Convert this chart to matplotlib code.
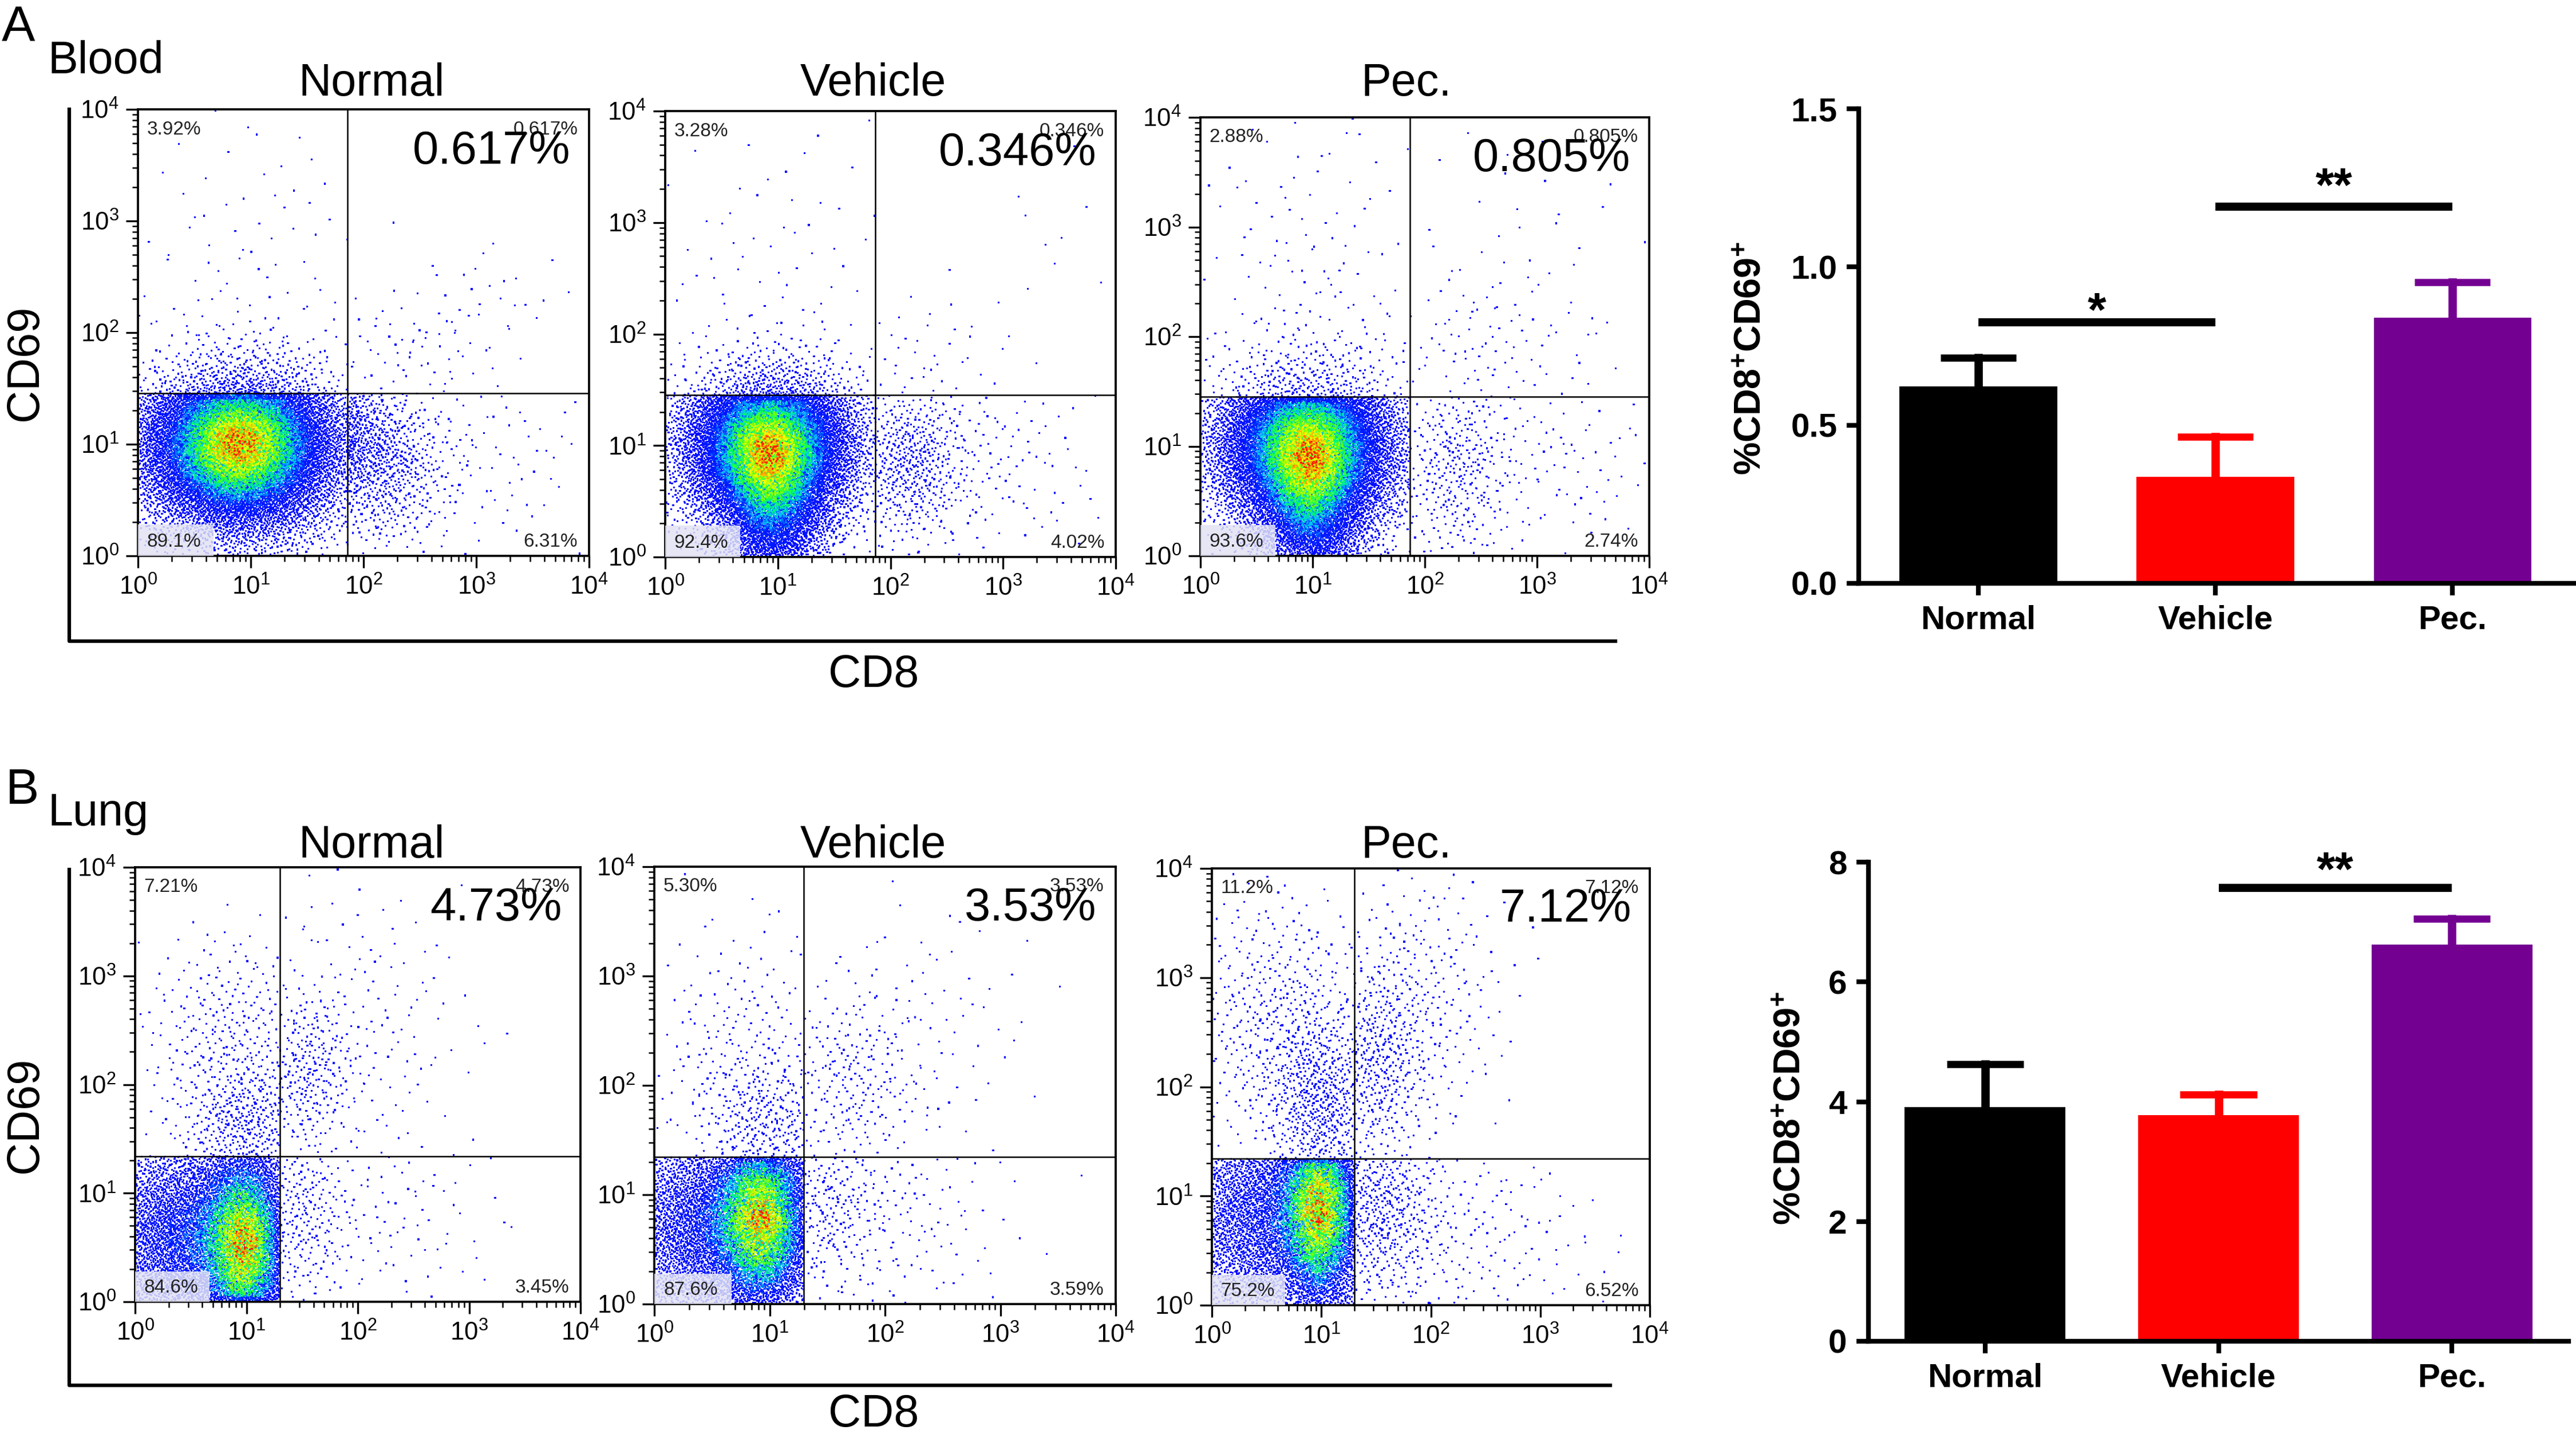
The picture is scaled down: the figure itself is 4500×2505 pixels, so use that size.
import numpy as np
import matplotlib
matplotlib.use('Agg')
import matplotlib.pyplot as plt
from matplotlib.colors import LinearSegmentedColormap
from matplotlib.lines import Line2D
from matplotlib.patches import Rectangle

plt.rcParams['font.family'] = ['Liberation Sans', 'DejaVu Sans']
plt.rcParams['mathtext.fontset'] = 'custom'
plt.rcParams['mathtext.rm'] = 'Liberation Sans'
plt.rcParams['mathtext.it'] = 'Liberation Sans:italic'
plt.rcParams['mathtext.bf'] = 'Liberation Sans:bold'

#groups
groups = ['Normal', 'Vehicle', 'Pec.']

#quadrant percentages  (UL, UR, LL, LR)
blood_quad = [[3.92, 0.617, 89.1, 6.31],
              [3.28, 0.346, 92.4, 4.02],
              [2.88, 0.805, 93.6, 2.74]]
lung_quad = [[7.21, 4.73, 84.6, 3.45],
             [5.30, 3.53, 87.6, 3.59],
             [11.2, 7.12, 75.2, 6.52]]

#gates (log10 units)
blood_gate = [(1.86, 1.455), (1.865, 1.453), (1.867, 1.45)]
lung_gate = [(1.30, 1.34), (1.295, 1.345), (1.30, 1.34)]

#events per plot
blood_events = 14000
lung_events = 8000

#population shapes per quadrant: (share, mean x, mean y, sd x, sd y) in decades
blood_normal_pops = {'UL': [(0.85, 0.9, 1.1, 0.45, 0.35), (0.15, 1.0, 2.4, 0.6, 0.9)],
                     'UR': [(0.7, 2.4, 1.8, 0.45, 0.3), (0.3, 3.1, 2.3, 0.4, 0.3)],
                     'LL': [(1.0, 0.9, 1.0, 0.45, 0.4)],
                     'LR': [(0.6, 2.15, 0.8, 0.3, 0.35), (0.3, 1.6, 1.1, 0.3, 0.3),
                            (0.1, 3.0, 0.9, 0.6, 0.5)]}
blood_vehicle_pops = {'UL': [(0.85, 0.95, 1.1, 0.4, 0.33), (0.15, 1.0, 2.4, 0.6, 0.9)],
                      'UR': [(0.7, 2.2, 1.7, 0.35, 0.3), (0.3, 3.3, 2.6, 0.5, 0.6)],
                      'LL': [(0.8, 0.92, 1.0, 0.38, 0.38), (0.2, 0.95, 0.4, 0.25, 0.4)],
                      'LR': [(0.7, 2.15, 0.85, 0.25, 0.35), (0.3, 2.6, 0.9, 0.6, 0.5)]}
blood_pec_pops = {'UL': [(0.75, 0.95, 1.1, 0.45, 0.4), (0.25, 1.0, 2.6, 0.6, 0.8)],
                  'UR': [(0.7, 2.5, 1.9, 0.5, 0.35), (0.3, 2.8, 2.8, 0.7, 0.6)],
                  'LL': [(0.8, 0.95, 1.0, 0.4, 0.4), (0.2, 1.0, 0.4, 0.25, 0.4)],
                  'LR': [(0.7, 2.27, 0.8, 0.25, 0.45), (0.3, 2.9, 0.9, 0.7, 0.5)]}
lung_normal_pops = {'UL': [(0.5, 1.0, 1.6, 0.3, 0.3), (0.5, 0.9, 2.4, 0.4, 0.5)],
                    'UR': [(0.6, 1.55, 2.1, 0.2, 0.4), (0.4, 2.0, 2.4, 0.5, 0.8)],
                    'LL': [(0.55, 1.0, 0.5, 0.22, 0.55), (0.45, 0.45, 0.6, 0.45, 0.5)],
                    'LR': [(0.7, 1.45, 0.8, 0.25, 0.45), (0.3, 2.3, 0.8, 0.5, 0.5)]}
lung_vehicle_pops = {'UL': [(0.5, 1.0, 1.6, 0.3, 0.3), (0.5, 0.8, 2.2, 0.4, 0.6)],
                     'UR': [(0.7, 1.7, 2.0, 0.3, 0.45), (0.3, 2.3, 2.5, 0.5, 0.6)],
                     'LL': [(0.6, 0.95, 0.8, 0.24, 0.5), (0.4, 0.45, 0.7, 0.45, 0.5)],
                     'LR': [(0.6, 1.5, 0.9, 0.25, 0.4), (0.4, 2.1, 0.8, 0.5, 0.5)]}
lung_pec_pops = {'UL': [(0.55, 1.0, 1.8, 0.25, 0.45), (0.45, 0.6, 2.6, 0.45, 0.6)],
                 'UR': [(0.6, 1.5, 2.2, 0.25, 0.5), (0.4, 1.9, 2.8, 0.4, 0.6)],
                 'LL': [(0.6, 1.0, 0.9, 0.22, 0.55), (0.4, 0.45, 0.8, 0.45, 0.55)],
                 'LR': [(0.7, 1.5, 0.9, 0.3, 0.45), (0.3, 2.3, 0.6, 0.6, 0.5)]}
blood_pops = [blood_normal_pops, blood_vehicle_pops, blood_pec_pops]
lung_pops = [lung_normal_pops, lung_vehicle_pops, lung_pec_pops]

#bar chart values (mean, sem)
blood_mean = [0.622, 0.336, 0.840]
blood_sem = [0.091, 0.127, 0.112]
lung_mean = [3.91, 3.78, 6.62]
lung_sem = [0.72, 0.34, 0.43]
bar_colors = ['#000000', '#ff0000', '#740092']
#significance: (from, to, line height, star height, label)
blood_sig = [(0, 1, 0.825, 0.90, '*'), (1, 2, 1.19, 1.295, '**')]
lung_sig = [(1, 2, 7.57, 8.07, '**')]

W, H = 4500, 2505
fig = plt.figure(figsize=(15, 8.35), dpi=300)


def box(l, t, r, b):
    return [l / W, 1 - b / H, (r - l) / W, (b - t) / H]


def fx(p):
    return p / W


def fy(p):
    return 1 - p / H


def halton(n, base, start):
    i = np.arange(start, start + n)
    res = np.zeros(n)
    f = 1.0
    while np.any(i > 0):
        f /= base
        res += f * (i % base)
        i = i // base
    return res


def norm_ppf(p):
    p = np.clip(p, 1e-7, 1 - 1e-7)
    q = np.where(p < 0.5, p, 1 - p)
    t = np.sqrt(-2 * np.log(q))
    z = t - (2.515517 + 0.802853 * t + 0.010328 * t ** 2) / \
        (1 + 1.432788 * t + 0.189269 * t ** 2 + 0.001308 * t ** 3)
    return np.where(p < 0.5, -z, z)


def draw_pop(count, mx, my, sx, sy, lim, key):
    #low discrepancy draw of a gaussian cut to the quadrant
    xs, ys = [], []
    got = 0
    start = 1 + 7919 * key
    s1 = (0.6180339 * key) % 1
    s2 = (0.7548776 * key) % 1
    while got < count:
        n = max(4 * (count - got), 400)
        u = (halton(n, 2, start) + s1) % 1
        v = (halton(n, 3, start) + s2) % 1
        start += n
        x = mx + sx * norm_ppf(u)
        y = my + sy * norm_ppf(v)
        ok = (x > lim[0]) & (x < lim[1]) & (y > lim[2]) & (y < lim[3])
        xs.append(x[ok])
        ys.append(y[ok])
        got += ok.sum()
    return np.concatenate(xs)[:count], np.concatenate(ys)[:count]


cmap = LinearSegmentedColormap.from_list('flow', [(0, '#0000ff'), (0.35, '#0020ff'),
                                                  (0.5, '#00c0ff'), (0.62, '#00ff60'),
                                                  (0.75, '#80ff00'), (0.87, '#ffff00'),
                                                  (0.95, '#ff9000'), (1.0, '#ff2000')])


def flow_panel(rect, quad, gate, pops, events, key0):
    ax = fig.add_axes(rect)
    gx, gy = gate
    lims = {'UL': (0.01, gx, gy, 3.99), 'UR': (gx, 3.99, gy, 3.99),
            'LL': (0.01, gx, 0.01, gy), 'LR': (gx, 3.99, 0.01, gy)}
    xs, ys = [], []
    k = key0
    for qi, q in enumerate(['UL', 'UR', 'LL', 'LR']):
        n_q = int(round(quad[qi] / 100 * events))
        for share, mx, my, sx, sy in pops[q]:
            k += 1
            px, py = draw_pop(int(round(share * n_q)), mx, my, sx, sy, lims[q], k)
            xs.append(px)
            ys.append(py)
    x = np.concatenate(xs)
    y = np.concatenate(ys)
    #density colouring with a grainy look
    nb = 80
    hist, _, _ = np.histogram2d(x, y, bins=nb, range=[[0, 4], [0, 4]])
    p = np.pad(hist, 1)
    hist = sum(p[i:i + nb, j:j + nb] for i in range(3) for j in range(3)) / 9
    ix = np.clip((x / 4 * nb).astype(int), 0, nb - 1)
    iy = np.clip((y / 4 * nb).astype(int), 0, nb - 1)
    grain = (halton(len(x), 5, 17 + 31 * key0) + 0.37 * key0) % 1
    d = np.clip(hist[ix, iy] / hist.max() * (0.45 + 0.6 * grain), 0, 1)
    o = np.argsort(d)
    ax.scatter(x[o], y[o], c=d[o], cmap=cmap, vmin=0, vmax=1, s=0.6, marker='s',
               linewidths=0, zorder=2)
    ax.axvline(gx, color='black', lw=0.6, zorder=4)
    ax.axhline(gy, color='black', lw=0.6, zorder=4)
    ax.set_xlim(0, 4)
    ax.set_ylim(0, 4)
    ticks = range(5)
    labels = [r'$10^{%d}$' % t for t in ticks]
    minor = [t + np.log10(m) for t in range(4) for m in range(2, 10)]
    ax.set_xticks(ticks)
    ax.set_xticklabels(labels)
    ax.set_yticks(ticks)
    ax.set_yticklabels(labels)
    ax.set_xticks(minor, minor=True)
    ax.set_yticks(minor, minor=True)
    ax.tick_params(which='major', direction='out', length=5, width=0.8, labelsize=10.5, pad=3)
    ax.tick_params(which='minor', direction='out', length=2.5, width=0.6)
    for sp in ax.spines.values():
        sp.set_linewidth(0.9)
    ax.add_patch(Rectangle((0, 0), 0.167, 0.07, transform=ax.transAxes,
                           facecolor='#e2e2f4', alpha=0.85, edgecolor='none', zorder=3))
    fmt = lambda v: ('%#.3g' % v) + '%'
    tc = '#222222'
    ax.text(0.02, 0.955, fmt(quad[0]), transform=ax.transAxes, fontsize=8, color=tc,
            ha='left', va='center', zorder=5)
    ax.text(0.975, 0.955, fmt(quad[1]), transform=ax.transAxes, fontsize=8, color=tc,
            ha='right', va='center', zorder=5)
    ax.text(0.02, 0.032, fmt(quad[2]), transform=ax.transAxes, fontsize=8, color=tc,
            ha='left', va='center', zorder=5)
    ax.text(0.975, 0.032, fmt(quad[3]), transform=ax.transAxes, fontsize=8, color=tc,
            ha='right', va='center', zorder=5)
    ax.text(0.958, 0.905, fmt(quad[1]), transform=ax.transAxes, fontsize=19.5,
            ha='right', va='center', zorder=6)
    return ax


def bar_panel(rect, means, sems, sig, ylim, yticks, ylabels, xlim, width, cap, ylab_x, ylab_y):
    ax = fig.add_axes(rect)
    xpos = np.arange(len(groups))
    for i in range(len(groups)):
        top = means[i] + sems[i]
        ax.plot([xpos[i], xpos[i]], [means[i], top], color=bar_colors[i], lw=3.5, zorder=1)
        ax.plot([xpos[i] - cap, xpos[i] + cap], [top, top], color=bar_colors[i], lw=3,
                solid_capstyle='butt', zorder=1)
    ax.bar(xpos, means, width=width, color=bar_colors, zorder=2)
    for a, b, ly, sy, lab in sig:
        ax.plot([xpos[a], xpos[b]], [ly, ly], color='black', lw=3.4,
                solid_capstyle='butt', clip_on=False)
        ax.annotate(lab, xy=((xpos[a] + xpos[b]) / 2, sy), xytext=(0, -6.4),
                    textcoords='offset points', ha='center', va='center',
                    fontsize=20, fontweight='bold', annotation_clip=False)
    ax.set_xlim(*xlim)
    ax.set_ylim(*ylim)
    ax.set_yticks(yticks)
    ax.set_yticklabels(ylabels)
    ax.set_xticks(xpos)
    ax.set_xticklabels(groups)
    for lb in ax.get_xticklabels() + ax.get_yticklabels():
        lb.set_fontweight('bold')
    ax.tick_params(direction='out', length=5, width=2, labelsize=14, pad=4)
    ax.spines['top'].set_visible(False)
    ax.spines['right'].set_visible(False)
    ax.spines['left'].set_linewidth(2)
    ax.spines['bottom'].set_linewidth(2)
    fig.text(fx(ylab_x), fy(ylab_y), r'$\mathbf{\%CD8^{+}CD69^{+}}$', rotation=90,
             ha='center', va='center', fontsize=15.5)
    return ax


#row A (blood)
blood_rects = [box(241, 191, 1029, 971), box(1162, 194, 1949, 973), box(2097, 205, 2881, 971)]
title_x = [649, 1525, 2457]
for i in range(3):
    flow_panel(blood_rects[i], blood_quad[i], blood_gate[i], blood_pops[i], blood_events, 10 * i)
    fig.text(fx(title_x[i]), fy(167), groups[i], ha='center', va='baseline', fontsize=19)

#row B (lung)
lung_rects = [box(236, 1515, 1014, 2274), box(1143, 1514, 1949, 2278), box(2117, 1517, 2882, 2280)]
for i in range(3):
    flow_panel(lung_rects[i], lung_quad[i], lung_gate[i], lung_pops[i], lung_events, 100 + 10 * i)
    fig.text(fx(title_x[i]), fy(1498), groups[i], ha='center', va='baseline', fontsize=19)

#outer axes of the dot plots
for top, bottom, right in [(191, 1120, 2822), (1519, 2420, 2813)]:
    fig.add_artist(Line2D([fx(121), fx(121), fx(right)], [fy(top), fy(bottom), fy(bottom)],
                          color='black', lw=1.5, transform=fig.transFigure))
fig.text(fx(1526), fy(1200), 'CD8', ha='center', va='baseline', fontsize=19)
fig.text(fx(1526), fy(2492), 'CD8', ha='center', va='baseline', fontsize=19)
fig.text(fx(44), fy(634), 'CD69', ha='center', va='center', rotation=90, fontsize=19)
fig.text(fx(44), fy(1948), 'CD69', ha='center', va='center', rotation=90, fontsize=19)

#panel letters
fig.text(fx(3), fy(72), 'A', ha='left', va='baseline', fontsize=21)
fig.text(fx(84), fy(128), 'Blood', ha='left', va='baseline', fontsize=19)
fig.text(fx(10), fy(1404), 'B', ha='left', va='baseline', fontsize=21)
fig.text(fx(84), fy(1442), 'Lung', ha='left', va='baseline', fontsize=19)

#bar charts
bar_panel(box(3247, 190, 4497, 1019), blood_mean, blood_sem, blood_sig, (0, 1.5),
          [0, 0.5, 1.0, 1.5], ['0.0', '0.5', '1.0', '1.5'], (-0.505, 2.514), 0.665, 0.16,
          3059, 626)
bar_panel(box(3264, 1506, 4487, 2343), lung_mean, lung_sem, lung_sig, (0, 8),
          [0, 2, 4, 6, 8], ['0', '2', '4', '6', '8'], (-0.5, 2.5), 0.69, 0.165, 3128, 1936)

fig.savefig('out.png', dpi=300, facecolor='white')
